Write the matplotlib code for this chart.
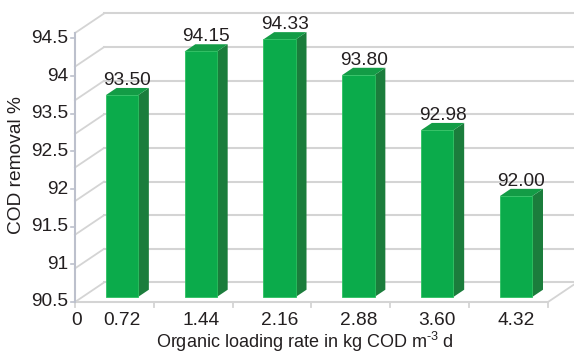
import numpy as np
import matplotlib
matplotlib.use("Agg")
import matplotlib.pyplot as plt
from matplotlib.patches import Polygon

plt.rcParams['font.family'] = ['Liberation Sans', 'DejaVu Sans']
plt.rcParams['mathtext.fontset'] = 'custom'
plt.rcParams['mathtext.rm'] = 'Liberation Sans'

# data
loading = ["0.72", "1.44", "2.16", "2.88", "3.60", "4.32"]
removal = [93.50, 94.15, 94.33, 93.80, 92.98, 92.00]
grid_vals = [90.5, 91.0, 91.5, 92.0, 92.5, 93.0, 93.5, 94.0, 94.5]
ytick_text = ["90.5", "91", "91.5", "92", "92.5", "93.5", "94", "94.5"]

ymin, ymax = 90.5, 94.5
n = len(loading)

# pseudo-3d geometry (depth vector in data units)
DX, DY = 0.368, 0.29
d0, dd = 0.26, 0.37
w = 0.41

c_front = "#0bab4b"
c_side = "#1b7d3c"
c_top = "#139c46"
c_grid = "#d4d4d4"
c_axis = "#bcc0cc"
c_text = "#231f20"
fs = 13.8

fig = plt.figure(figsize=(5.74, 3.53), dpi=100)
ax = fig.add_axes([0, 0, 1, 1])
px_x, px_y = 78.83, 67.25
ax.set_xlim(-75 / px_x, (574 - 75) / px_x)
ax.set_ylim(ymin - 51 / px_y, ymax + 33 / px_y)
ax.axis('off')

# back wall gridlines and side wall diagonals
for g in grid_vals:
    ax.plot([DX, n + DX + 0.2], [g + DY, g + DY], color=c_grid, lw=1.5, zorder=1)
    ax.plot([0, DX], [g, g + DY], color=c_grid, lw=1.3, zorder=1)

# floor
ax.plot([0, n], [ymin, ymin], color=c_grid, lw=1.5, zorder=1)
ax.plot([n, n + DX], [ymin, ymin + DY], color=c_grid, lw=1.3, zorder=1)

# front value axis
ax.plot([0, 0], [ymin, ymax], color=c_axis, lw=1.5, zorder=2)
label_pos = np.linspace(ymin, 94.42, len(ytick_text))
for yp, t in zip(label_pos, ytick_text):
    ax.plot([-0.05, 0], [yp, yp], color=c_axis, lw=1.2, zorder=2)
    ax.annotate(t, (0, yp), xytext=(-5, 0), textcoords='offset points',
                ha='right', va='center', fontsize=fs, color=c_text)

# category ticks along the floor edge
for i in range(n + 1):
    ax.plot([i, i], [ymin, ymin - 0.08], color=c_grid, lw=1.3, zorder=1)

ax.annotate("0", (0, ymin), xytext=(1, -16.5), textcoords='offset points',
            ha='center', va='baseline', fontsize=fs, color=c_text)

# bars
for i, (lab, v) in enumerate(zip(loading, removal)):
    c = i + 0.5
    xl = c - w / 2 + d0 * DX
    xr = c + w / 2 + d0 * DX
    yb = ymin + d0 * DY
    yt = v + d0 * DY
    ox, oy = dd * DX, dd * DY
    side = Polygon([(xr, yb), (xr + ox, yb + oy), (xr + ox, yt + oy), (xr, yt)],
                   closed=True, fc=c_side, ec='none', zorder=3)
    top = Polygon([(xl, yt), (xr, yt), (xr + ox, yt + oy), (xl + ox, yt + oy)],
                  closed=True, fc=c_top, ec='none', zorder=3)
    front = Polygon([(xl, yb), (xr, yb), (xr, yt), (xl, yt)],
                    closed=True, fc=c_front, ec='#2cc060', lw=0.6, zorder=4)
    for p in (side, top, front):
        ax.add_patch(p)
    ax.annotate(f"{v:.2f}", (c + (d0 + dd / 2) * DX, yt + oy), xytext=(0, 2),
                textcoords='offset points', ha='center', va='baseline',
                fontsize=fs, color=c_text)
    ax.annotate(lab, (c + d0 * DX, ymin), xytext=(0, -16.5), textcoords='offset points',
                ha='center', va='baseline', fontsize=fs, color=c_text)

fig.text(305 / 574, 1 - 342 / 353, r"Organic loading rate in kg COD m$^{\text{-}3}$ d",
         ha='center', va='center', fontsize=13, color=c_text)
fig.text(17 / 574, 1 - 165 / 353, "COD removal %", rotation=90,
         ha='center', va='center', fontsize=fs, color=c_text)

fig.savefig("out.png", dpi=100)
